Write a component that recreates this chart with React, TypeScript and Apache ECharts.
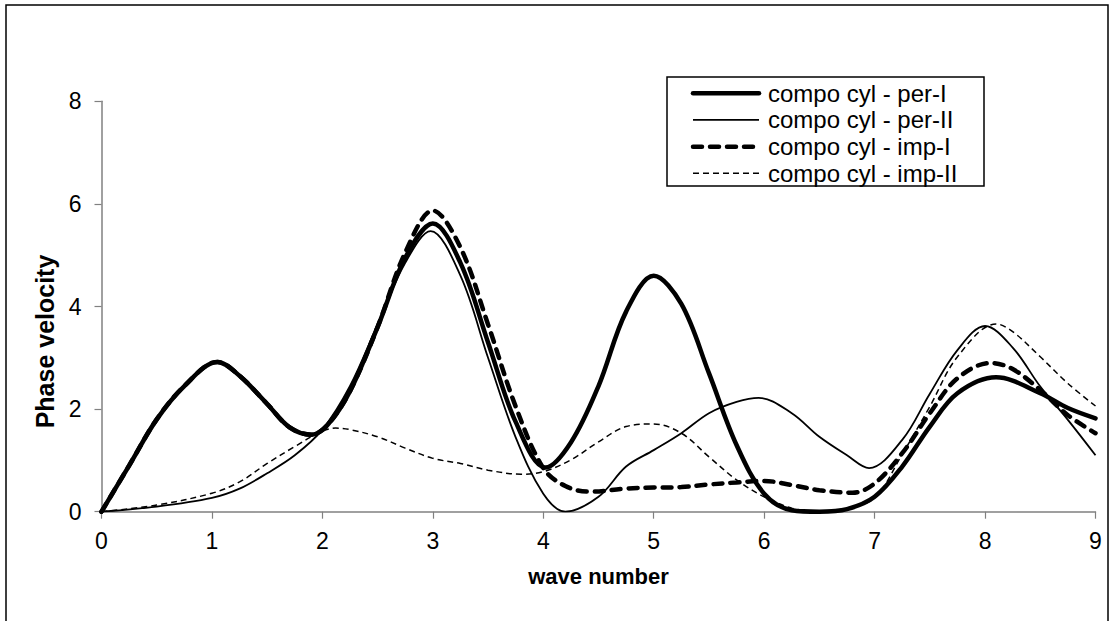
import React, { useEffect, useRef } from "react";
import * as echarts from "echarts";

// ---- data ----
const perIX = [0, 0.25, 0.5, 0.75, 1.05, 1.25, 1.5, 1.7, 1.9, 2.05, 2.25, 2.5, 2.75, 3.0, 3.25, 3.5, 3.75, 4.02, 4.25, 4.5, 4.75, 5.0, 5.25, 5.5, 5.75, 6.0, 6.25, 6.5, 6.75, 7.0, 7.25, 7.5, 7.75, 8.1, 8.5, 8.75, 9.0];
const perIY = [0, 0.9, 1.8, 2.45, 2.92, 2.65, 2.1, 1.65, 1.5, 1.7, 2.35, 3.6, 4.95, 5.62, 4.85, 3.3, 1.75, 0.86, 1.35, 2.45, 3.9, 4.6, 4.05, 2.7, 1.3, 0.35, 0.03, 0, 0.05, 0.29, 0.88, 1.66, 2.31, 2.62, 2.31, 2.02, 1.82];

const perIIX = [0, 0.5, 1.0, 1.25, 1.5, 1.75, 2.0, 2.25, 2.5, 2.75, 2.98, 3.25, 3.5, 3.75, 4.0, 4.2, 4.5, 4.75, 5.0, 5.25, 5.5, 5.75, 5.95, 6.25, 6.5, 6.75, 6.95, 7.25, 7.5, 7.75, 8.0, 8.25, 8.5, 8.75, 9.0];
const perIIY = [0, 0.1, 0.27, 0.45, 0.75, 1.1, 1.6, 2.45, 3.65, 4.85, 5.47, 4.6, 3.0, 1.45, 0.35, 0, 0.29, 0.88, 1.2, 1.53, 1.92, 2.14, 2.22, 1.92, 1.46, 1.1, 0.85, 1.4, 2.3, 3.15, 3.62, 3.2, 2.44, 1.79, 1.1];

const impIX = [0, 0.25, 0.5, 0.75, 1.05, 1.25, 1.5, 1.7, 1.9, 2.05, 2.25, 2.5, 2.75, 3.0, 3.25, 3.5, 3.75, 4.0, 4.2, 4.42, 4.75, 5.0, 5.25, 5.5, 5.75, 6.0, 6.25, 6.5, 6.8, 7.0, 7.25, 7.5, 7.75, 8.05, 8.25, 8.5, 8.75, 9.0];
const impIY = [0, 0.9, 1.8, 2.45, 2.92, 2.65, 2.1, 1.65, 1.5, 1.7, 2.35, 3.6, 5.05, 5.87, 5.15, 3.65, 2.05, 0.85, 0.5, 0.39, 0.45, 0.47, 0.48, 0.53, 0.57, 0.6, 0.52, 0.42, 0.37, 0.55, 1.14, 1.92, 2.6, 2.9, 2.78, 2.37, 1.88, 1.53];

const impIIX = [0, 0.5, 1.0, 1.25, 1.5, 1.75, 2.0, 2.12, 2.25, 2.5, 2.75, 3.0, 3.25, 3.5, 3.8, 4.0, 4.25, 4.5, 4.75, 5.0, 5.25, 5.5, 5.75, 6.0, 6.25, 6.5, 6.75, 7.0, 7.25, 7.5, 7.75, 8.1, 8.25, 8.5, 8.75, 9.0];
const impIIY = [0, 0.13, 0.36, 0.58, 0.94, 1.27, 1.57, 1.63, 1.6, 1.46, 1.24, 1.04, 0.94, 0.81, 0.73, 0.78, 1.01, 1.36, 1.66, 1.71, 1.53, 1.07, 0.62, 0.29, 0.07, 0, 0.07, 0.27, 1.12, 2.05, 3.02, 3.66, 3.51, 3.02, 2.5, 2.06];

const seriesNames = ["compo cyl - per-I", "compo cyl - per-II", "compo cyl - imp-I", "compo cyl - imp-II"];
const xTicks = [0, 1, 2, 3, 4, 5, 6, 7, 8, 9];
const yTicks = [0, 2, 4, 6, 8];
const xTitle = "wave number";
const yTitle = "Phase velocity";

const FONT = "'Liberation Sans', Arial, sans-serif";

const pairs = (xs: number[], ys: number[]) => xs.map((x, i) => [x, ys[i]]);

const styles = [
  { width: 4.5, type: "solid" as any, cap: "round" },
  { width: 1.8, type: "solid" as any, cap: "butt" },
  { width: 4.5, type: [9, 8] as any, cap: "round" },
  { width: 1.5, type: [6, 4] as any, cap: "butt" },
];

export default function App() {
  const ref = useRef<HTMLDivElement>(null);
  useEffect(() => {
    if (!ref.current) return;
    const chart = echarts.init(ref.current, null, { renderer: "svg" });
    const datasets = [pairs(perIX, perIY), pairs(perIIX, perIIY), pairs(impIX, impIY), pairs(impIIX, impIIY)];

    const legendX0 = 667, legendY0 = 77, legendW = 317, legendH = 109;
    const rowY = (i: number) => 93.3 + i * 26.67;
    const legendEls: any[] = [
      {
        type: "rect",
        shape: { x: legendX0, y: legendY0, width: legendW, height: legendH },
        style: { fill: "#fff", stroke: "#000", lineWidth: 1.5 },
        z: 10,
      },
    ];
    seriesNames.forEach((name, i) => {
      const st = styles[i];
      legendEls.push({
        type: "line",
        shape: { x1: 693, y1: rowY(i), x2: 759, y2: rowY(i) },
        style: {
          stroke: "#000",
          lineWidth: st.width,
          lineDash: Array.isArray(st.type) ? st.type : null,
          lineCap: st.cap,
        },
        z: 11,
      });
      legendEls.push({
        type: "text",
        x: 768,
        y: rowY(i),
        style: { text: name, font: `24px ${FONT}`, fill: "#000", textAlign: "left", textVerticalAlign: "middle" },
        z: 11,
      });
    });

    chart.setOption({
      animation: false,
      backgroundColor: "#fff",
      grid: { left: 101.5, right: 18.5, top: 101.3, bottom: 109.3, containLabel: false },
      xAxis: {
        type: "value",
        min: xTicks[0],
        max: xTicks[xTicks.length - 1],
        interval: 1,
        axisLine: { show: true, lineStyle: { color: "#808080", width: 1.5 } },
        axisTick: { show: true, length: 7, inside: false, lineStyle: { color: "#808080", width: 1.2 } },
        axisLabel: { color: "#000", fontSize: 23, fontFamily: FONT, margin: 18 },
        splitLine: { show: false },
      },
      yAxis: {
        type: "value",
        min: yTicks[0],
        max: yTicks[yTicks.length - 1],
        interval: 2,
        axisLine: { show: true, lineStyle: { color: "#808080", width: 1.5 } },
        axisTick: { show: true, length: 7, inside: false, lineStyle: { color: "#808080", width: 1.2 } },
        axisLabel: { color: "#000", fontSize: 23, fontFamily: FONT, margin: 20 },
        splitLine: { show: false },
      },
      series: seriesNames.map((name, i) => ({
        name,
        type: "line",
        data: datasets[i],
        smooth: 0.35,
        showSymbol: false,
        symbol: "none",
        clip: true,
        lineStyle: { color: "#000", width: styles[i].width, type: styles[i].type, cap: styles[i].cap },
        z: 2 + i,
      })),
      graphic: [
        {
          type: "rect",
          shape: { x: 6, y: 5, width: 1102, height: 700 },
          style: { fill: "none", stroke: "#000", lineWidth: 1.5 },
          silent: true,
          z: -1,
        },
        {
          type: "text",
          x: 598.5,
          y: 576,
          style: { text: xTitle, font: `bold 22px ${FONT}`, fill: "#000", textAlign: "center", textVerticalAlign: "middle" },
        },
        {
          type: "text",
          x: 45,
          y: 341.5,
          rotation: Math.PI / 2,
          style: { text: yTitle, font: `bold 25px ${FONT}`, fill: "#000", textAlign: "center", textVerticalAlign: "middle" },
        },
        ...legendEls,
      ],
    });
    return () => chart.dispose();
  }, []);
  return <div ref={ref} style={{ position: "absolute", left: 0, top: 0, width: 1114, height: 621 }} />;
}
